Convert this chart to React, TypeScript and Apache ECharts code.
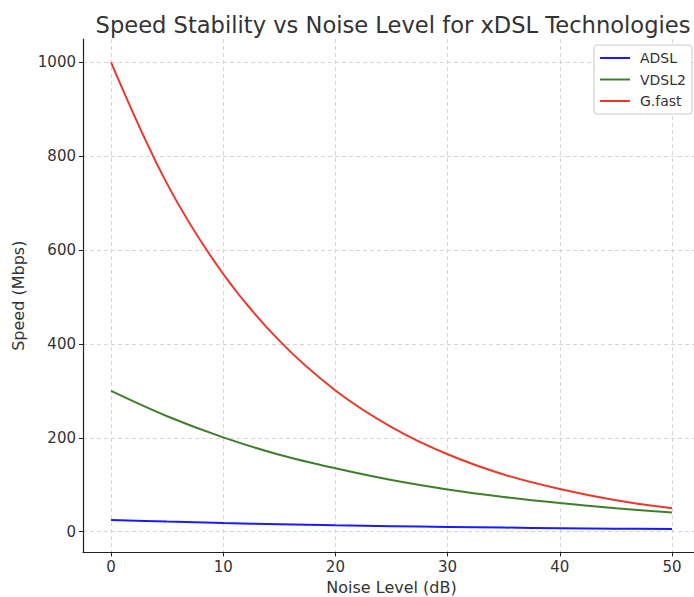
import React, { useEffect, useRef } from "react";
import * as echarts from "echarts";

const noiseLevels = [0, 5, 10, 15, 20, 25, 30, 35, 40, 45, 50];
const adsl = [25, 21.5, 18.5, 16, 13.7, 11.8, 10.2, 8.8, 7.5, 6.5, 5.6];
const vdsl2 = [300, 246, 201, 164, 135, 110, 90, 74, 61, 50, 41];
const gfast = [1000, 741, 549, 407, 301, 223, 165, 122, 91, 67, 50];
const xTicks = [0, 10, 20, 30, 40, 50];
const yTicks = [0, 200, 400, 600, 800, 1000];

const FONT = "DejaVu Sans";

export default function App() {
  const ref = useRef<HTMLDivElement>(null);
  useEffect(() => {
    if (!ref.current) return;
    const chart = echarts.init(ref.current, null, { renderer: "svg" });
    const mk = (name: string, vals: number[], color: string) => ({
      name,
      type: "line",
      data: noiseLevels.map((x, i) => [x, vals[i]]),
      showSymbol: false,
      symbol: "none",
      smooth: 0.35,
      lineStyle: { color, width: 2 },
      itemStyle: { color },
    });
    chart.setOption({
      animation: false,
      backgroundColor: "#ffffff",
      title: {
        text: "Speed Stability vs Noise Level for xDSL Technologies",
        left: 388,
        textAlign: "center",
        top: 8,
        textStyle: { fontFamily: FONT, fontSize: 22.6, fontWeight: "normal", color: "#333333" },
      },
      legend: {
        orient: "vertical",
        left: 594,
        top: 45,
        icon: "rect",
        itemWidth: 30,
        itemHeight: 2,
        itemGap: 7.5,
        padding: [6, 6, 6, 6],
        backgroundColor: "#ffffff",
        borderColor: "#cccccc",
        borderWidth: 1,
        borderRadius: 3,
        textStyle: { fontFamily: FONT, fontSize: 14, lineHeight: 14, color: "#333333", padding: [0, 0, 0, 5] },
        data: ["ADSL", "VDSL2", "G.fast"],
      },
      grid: {
        left: 83,
        width: 617,
        top: 39,
        height: 513.4,
        containLabel: false,
        outerBoundsMode: "none",
      },
      xAxis: {
        type: "value",
        min: -2.5,
        max: 52.5,
        name: "Noise Level (dB)",
        nameLocation: "middle",
        nameGap: 27,
        nameTextStyle: { fontFamily: FONT, fontSize: 16, color: "#333333" },
        axisLine: { show: true, onZero: false, lineStyle: { color: "#222222", width: 1.2 } },
        axisTick: { show: true, inside: false, length: 4, customValues: xTicks, lineStyle: { color: "#222222" } },
        axisLabel: { customValues: xTicks, margin: 7, fontFamily: FONT, fontSize: 15, color: "#333333" },
        splitLine: { show: true, lineStyle: { color: "#cccccc", type: [4, 3], width: 0.8 } },
      },
      yAxis: {
        type: "value",
        min: -44.1,
        max: 1049.7,
        name: "Speed (Mbps)",
        nameLocation: "middle",
        nameGap: 55,
        nameRotate: 90,
        nameTextStyle: { fontFamily: FONT, fontSize: 16, color: "#333333" },
        axisLine: { show: true, onZero: false, lineStyle: { color: "#222222", width: 1.2 } },
        axisTick: { show: true, inside: false, length: 4, customValues: yTicks, lineStyle: { color: "#222222" } },
        axisLabel: {
          customValues: yTicks,
          margin: 7,
          fontFamily: FONT,
          fontSize: 15,
          color: "#333333",
          formatter: (v: number) => String(v),
        },
        splitLine: { show: true, lineStyle: { color: "#cccccc", type: [4, 3], width: 0.8 } },
      },
      series: [
        mk("ADSL", adsl, "#1a1aff"),
        mk("VDSL2", vdsl2, "#3d7f2b"),
        mk("G.fast", gfast, "#e8392b"),
      ],
    });
    return () => chart.dispose();
  }, []);
  return (
    <div
      ref={ref}
      style={{ position: "absolute", left: 0, top: 0, width: 694, height: 597, overflow: "hidden" }}
    />
  );
}
